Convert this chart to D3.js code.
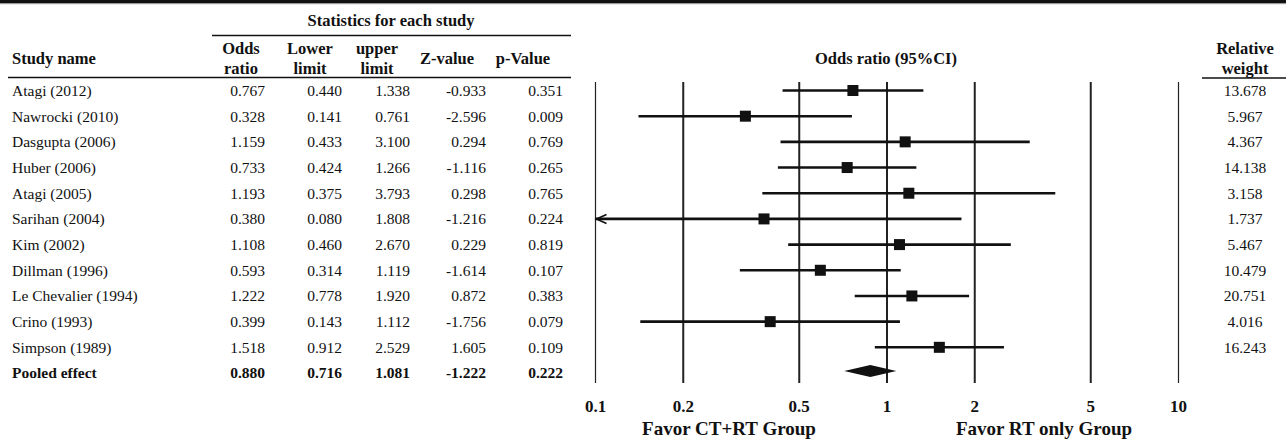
<!DOCTYPE html>
<html>
<head>
<meta charset="utf-8">
<script src="https://cdn.jsdelivr.net/npm/d3@7"></script>
<style>
  html, body { margin: 0; padding: 0; background: #fff; }
  svg { display: block; font-family: "Liberation Serif", "Times New Roman", serif; }
</style>
</head>
<body>
<svg id="chart" width="1286" height="439"></svg>
<script>
const studies = ["Atagi (2012)", "Nawrocki (2010)", "Dasgupta (2006)", "Huber (2006)", "Atagi (2005)",
  "Sarihan (2004)", "Kim (2002)", "Dillman (1996)", "Le Chevalier (1994)", "Crino (1993)", "Simpson (1989)"];
const oddsRatio = [0.767, 0.328, 1.159, 0.733, 1.193, 0.380, 1.108, 0.593, 1.222, 0.399, 1.518];
const lowerLimit = [0.440, 0.141, 0.433, 0.424, 0.375, 0.080, 0.460, 0.314, 0.778, 0.143, 0.912];
const upperLimit = [1.338, 0.761, 3.100, 1.266, 3.793, 1.808, 2.670, 1.119, 1.920, 1.112, 2.529];
const zValue = [-0.933, -2.596, 0.294, -1.116, 0.298, -1.216, 0.229, -1.614, 0.872, -1.756, 1.605];
const pValue = [0.351, 0.009, 0.769, 0.265, 0.765, 0.224, 0.819, 0.107, 0.383, 0.079, 0.109];
const relWeight = [13.678, 5.967, 4.367, 14.138, 3.158, 1.737, 5.467, 10.479, 20.751, 4.016, 16.243];
const pooledLabel = "Pooled effect";
const pooledStats = [0.880, 0.716, 1.081, -1.222, 0.222];
const tickValues = [0.1, 0.2, 0.5, 1, 2, 5, 10];
const tableHeaders = [["Odds", "ratio"], ["Lower", "limit"], ["upper", "limit"], ["Z-value"], ["p-Value"]];

const svg = d3.select("#chart");
const ink = "#111";
const f3 = v => v.toFixed(3);

// scales
const x = d3.scaleLog().domain([0.1, 10]).range([595, 1178]);
const y = d3.scaleLinear().domain([0, 11]).range([90.5, 373]);
const colRight = [265, 342, 410, 486, 563];
const colHeadCenter = [241, 310, 377, 447, 523];

// top rule
svg.append("rect").attr("x", 0).attr("y", 0).attr("width", 1286).attr("height", 3).attr("fill", "#111");
svg.append("rect").attr("x", 0).attr("y", 3).attr("width", 1286).attr("height", 1.2).attr("fill", "#999");

// header texts
const hdr = svg.append("g").attr("font-weight", "bold").attr("font-size", 16.5).attr("fill", ink);
hdr.append("text").attr("x", 391).attr("y", 20).attr("dy", "0.35em").attr("text-anchor", "middle").text("Statistics for each study");
svg.append("line").attr("x1", 212).attr("x2", 571).attr("y1", 35.5).attr("y2", 35.5).attr("stroke", ink).attr("stroke-width", 1.6);
hdr.append("text").attr("x", 12).attr("y", 58).attr("dy", "0.35em").text("Study name");
tableHeaders.forEach((h, i) => {
  if (h.length === 2) {
    hdr.append("text").attr("x", colHeadCenter[i]).attr("y", 48).attr("dy", "0.35em").attr("text-anchor", "middle").text(h[0]);
    hdr.append("text").attr("x", colHeadCenter[i]).attr("y", 68).attr("dy", "0.35em").attr("text-anchor", "middle").text(h[1]);
  } else {
    hdr.append("text").attr("x", colHeadCenter[i]).attr("y", 58).attr("dy", "0.35em").attr("text-anchor", "middle").text(h[0]);
  }
});
svg.append("line").attr("x1", 8).attr("x2", 571).attr("y1", 77.5).attr("y2", 77.5).attr("stroke", ink).attr("stroke-width", 1.6);
hdr.append("text").attr("x", 886).attr("y", 58).attr("dy", "0.35em").attr("text-anchor", "middle").text("Odds ratio (95%CI)");
hdr.append("text").attr("x", 1245).attr("y", 48).attr("dy", "0.35em").attr("text-anchor", "middle").text("Relative");
hdr.append("text").attr("x", 1245).attr("y", 68).attr("dy", "0.35em").attr("text-anchor", "middle").text("weight");
svg.append("line").attr("x1", 1202).attr("x2", 1286).attr("y1", 78).attr("y2", 78).attr("stroke", ink).attr("stroke-width", 1.6);

// table body
const body = svg.append("g").attr("font-size", 15.5).attr("fill", ink);
studies.forEach((s, i) => {
  const yy = y(i);
  body.append("text").attr("x", 12).attr("y", yy).attr("dy", "0.35em").text(s);
  const vals = [oddsRatio[i], lowerLimit[i], upperLimit[i], zValue[i], pValue[i]];
  vals.forEach((v, j) => {
    body.append("text").attr("x", colRight[j]).attr("y", yy).attr("dy", "0.35em").attr("text-anchor", "end").text(f3(v));
  });
  body.append("text").attr("x", 1245).attr("y", yy).attr("dy", "0.35em").attr("text-anchor", "middle").text(f3(relWeight[i]));
});
const pooledY = y(studies.length);
const pb = svg.append("g").attr("font-size", 15.5).attr("font-weight", "bold").attr("fill", ink);
pb.append("text").attr("x", 12).attr("y", pooledY).attr("dy", "0.35em").text(pooledLabel);
pooledStats.forEach((v, j) => {
  pb.append("text").attr("x", colRight[j]).attr("y", pooledY).attr("dy", "0.35em").attr("text-anchor", "end").text(f3(v));
});

// axis with vertical reference lines
const axisY = 383, topY = 82;
const axis = d3.axisBottom(x).tickValues(tickValues).tickFormat(d => String(d))
  .tickSize(-(axisY - topY)).tickPadding(17);
const ag = svg.append("g").attr("transform", `translate(0,${axisY})`).call(axis);
ag.select(".domain").remove();
ag.selectAll(".tick line").attr("stroke", "#222")
  .attr("stroke-width", d => (d === 0.1 || d === 10) ? 1.2 : 2);
ag.selectAll(".tick text").attr("fill", ink).attr("font-size", 17).attr("font-weight", "bold")
  .attr("font-family", "Liberation Serif, Times New Roman, serif");

// CI lines, squares
const dom = x.domain();
const fg = svg.append("g");
studies.forEach((s, i) => {
  const yy = y(i);
  const lo = Math.max(lowerLimit[i], dom[0]);
  const hi = Math.min(upperLimit[i], dom[1]);
  fg.append("line").attr("x1", x(lo)).attr("x2", x(hi)).attr("y1", yy).attr("y2", yy)
    .attr("stroke", "#111").attr("stroke-width", 2.6);
  if (lowerLimit[i] < dom[0]) {
    const ax = x(dom[0]) + 1.5;
    fg.append("path").attr("d", `M${ax + 10},${yy - 4.5} L${ax},${yy} L${ax + 10},${yy + 4.5}`)
      .attr("fill", "none").attr("stroke", "#111").attr("stroke-width", 1.6);
  }
  const sz = 11;
  fg.append("rect").attr("x", x(oddsRatio[i]) - sz / 2).attr("y", yy - sz / 2)
    .attr("width", sz).attr("height", sz).attr("fill", "#111");
});

// pooled diamond
const dy0 = pooledY - 2;
fg.append("path")
  .attr("d", `M${x(pooledStats[1])},${dy0} L${x(pooledStats[0])},${dy0 - 6} L${x(pooledStats[2])},${dy0} L${x(pooledStats[0])},${dy0 + 6} Z`)
  .attr("fill", "#111");

// favor labels
const fav = svg.append("g").attr("font-weight", "bold").attr("font-size", 19).attr("fill", ink).attr("text-anchor", "middle");
fav.append("text").attr("x", 729).attr("y", 428).attr("dy", "0.35em").text("Favor CT+RT Group");
fav.append("text").attr("x", 1044).attr("y", 428).attr("dy", "0.35em").text("Favor RT only Group");
</script>
</body>
</html>
